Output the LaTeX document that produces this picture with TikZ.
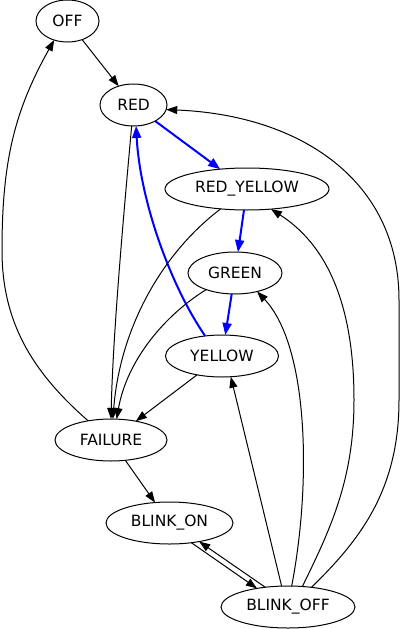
\documentclass[tikz,border=0pt]{standalone}
\usepackage{fontspec}
\setmainfont{DejaVu Sans}
\usetikzlibrary{arrows.meta,shapes.geometric}
\begin{document}
\begin{tikzpicture}[x=1pt,y=-1pt,
  st/.style={ellipse,draw,line width=1pt,inner sep=0pt,outer sep=0pt,minimum height=42pt,font=\fontsize{15.5}{18}\selectfont},
  ar/.style={line width=1pt,-{Triangle[length=11pt,width=8pt]}},
  bl/.style={draw=blue,line width=2pt,-{Triangle[length=12pt,width=9pt]}}]
\useasboundingbox (0,0) rectangle (400,629);
\node[st,minimum width=63pt]  (off) at (67.5,21) {OFF};
\node[st,minimum width=67pt]  (red) at (133.5,105) {RED};
\node[st,minimum width=164pt] (ry) at (247,189) {RED\_YELLOW};
\node[st,minimum width=94pt]  (green) at (235,273) {GREEN};
\node[st,minimum width=113pt] (yellow) at (222,356) {YELLOW};
\node[st,minimum width=112pt] (failure) at (111,440) {FAILURE};
\node[st,minimum width=127pt] (bon) at (169.5,523) {BLINK\_ON};
\node[st,minimum width=134pt] (boff) at (288,607) {BLINK\_OFF};
% main cycle
\draw[ar] (off) -- (red);
\draw[bl] (red) -- (ry);
\draw[bl] (ry) -- (green);
\draw[bl] (green) -- (yellow);
\draw[bl] (yellow.130) .. controls (170,285) and (140,200) .. (red.-83);
% to failure
\draw[ar] (red.-95) .. controls (125,200) and (113,330) .. (failure.90);
\draw[ar] (ry.-143) .. controls (160,255) and (120,330) .. (failure.85);
\draw[ar] (green.-150) .. controls (165,315) and (127,360) .. (failure.75);
\draw[ar] (yellow) -- (failure);
\draw[ar] (failure.140) .. controls (30,370) and (2,320) .. (2,250)
  .. controls (2,160) and (15,110) .. (off.-125);
\draw[ar] (failure) -- (bon);
\draw[ar] (bon.-42) -- (boff.149);
\draw[ar] (boff.139) -- (bon.-32);
% from blink off
\draw[ar] (boff.107) -- (yellow.-67);
\draw[ar] (boff.80) .. controls (312,480) and (308,345) .. (green.-40);
\draw[ar] (boff.55) .. controls (330,530) and (354,480) .. (354,400)
  .. controls (354,320) and (335,250) .. (ry.-40);
\draw[ar] (boff.40) .. controls (360,540) and (399,490) .. (399,400)
  -- (399,300) .. controls (399,180) and (300,115) .. (red.-8);
\end{tikzpicture}
\end{document}
